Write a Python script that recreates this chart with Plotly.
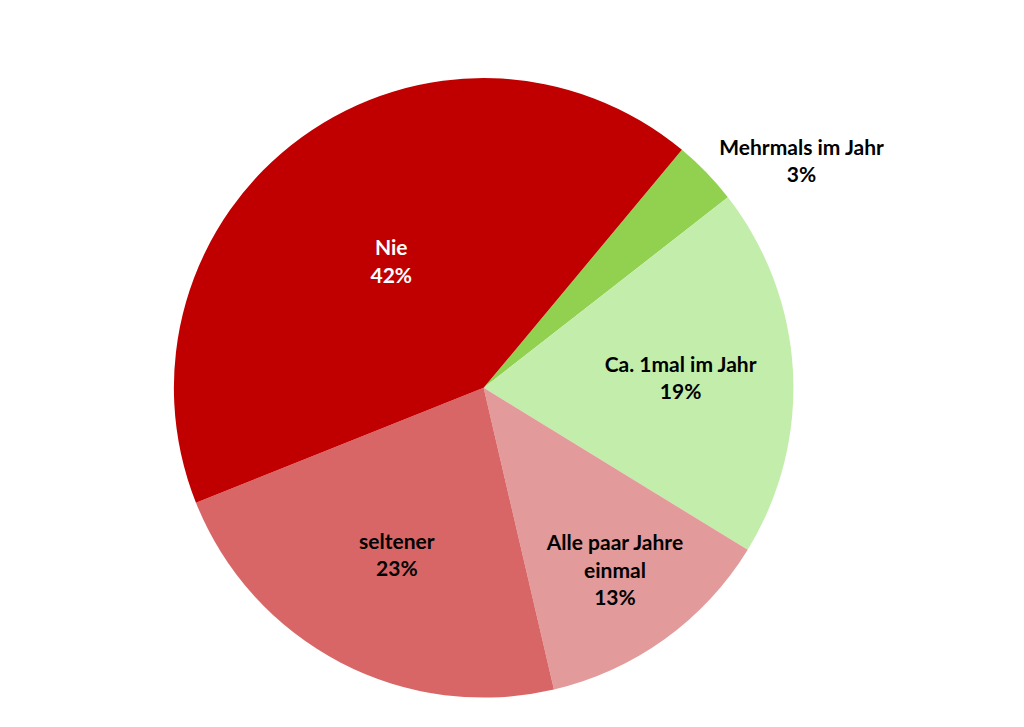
import plotly.graph_objects as go

labels = ['Mehrmals im Jahr', 'Ca. 1mal im Jahr', 'Alle paar Jahre<br>einmal', 'seltener', 'Nie']
values = [3.4, 19.3, 12.6, 22.6, 42.1]
colors = ['#92D050', '#C3EDAA', '#E39A9A', '#D96666', '#C00000']
text_colors = ['#000000', '#000000', '#000000', '#000000', '#FFFFFF']
text_pos = ['outside', 'inside', 'inside', 'inside', 'inside']

fig = go.Figure()
fig.add_trace(go.Pie(
    labels=labels,
    values=values,
    sort=False,
    direction='clockwise',
    rotation=39.8,
    marker=dict(colors=colors, line=dict(width=0)),
    texttemplate='<b>%{label}<br>%{percent:.0%}</b>',
    textposition=text_pos,
    insidetextorientation='horizontal',
    textfont=dict(family='Lato', size=21, color=text_colors),
    hoverinfo='label+percent',
    showlegend=False,
    domain=dict(x=[0.162, 0.767], y=[0.051, 0.904]),
))
fig.update_layout(
    width=1024, height=727,
    margin=dict(l=0, r=0, t=0, b=0),
    paper_bgcolor='white',
    font=dict(family='Lato'),
    uniformtext=dict(minsize=21, mode='show'),
)
fig.write_html('out.html')
